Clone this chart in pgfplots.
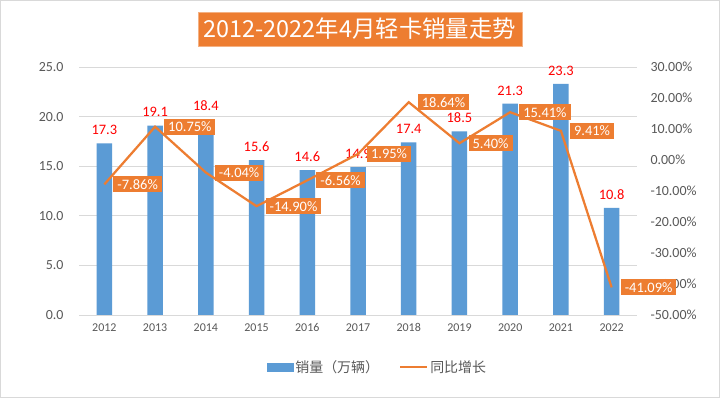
\documentclass[border=0pt]{standalone}
\usepackage{pgfplots}
\pgfplotsset{compat=1.18}
\usepackage{pgfplotstable}
\usepackage{fontspec}
\setmainfont{Carlito}
\newfontfamily\cjk{Noto Sans CJK SC}
\definecolor{barblue}{HTML}{5B9BD5}
\definecolor{lineorange}{HTML}{ED7D31}
\definecolor{labred}{HTML}{FF0000}
\definecolor{tickgray}{HTML}{595959}
\definecolor{gridgray}{HTML}{D9D9D9}

% laby: height at which the value label of each bar sits (2014's was lifted above the 10.75% box)
\pgfplotstableread{
x year sales laby growth
0 2012 17.3 17.3 -7.86
1 2013 19.1 19.1 10.75
2 2014 18.4 19.7 -4.04
3 2015 15.6 15.6 -14.90
4 2016 14.6 14.6 -6.56
5 2017 14.9 14.9 1.95
6 2018 17.4 17.4 18.64
7 2019 18.5 18.5 5.40
8 2020 21.3 21.3 15.41
9 2021 23.3 23.3 9.41
10 2022 10.8 10.8 -41.09
}\datatable

\begin{document}
\begin{tikzpicture}
\path[use as bounding box] (0bp,0bp) rectangle (720bp,398bp);
\fill[white] (0bp,0bp) rectangle (720bp,398bp);
\draw[gridgray, line width=1bp] (0.5bp,0.5bp) rectangle (719.5bp,397.5bp);

\begin{axis}[
  at={(79bp,83bp)}, anchor=south west,
  scale only axis, width=558bp, height=248bp,
  xmin=-0.5, xmax=10.5, ymin=0, ymax=25,
  axis x line*=bottom, axis y line*=left,
  x axis line style={gridgray, line width=0.75bp},
  y axis line style={draw=none},
  major tick length=0pt,
  xtick={0,1,...,10},
  xticklabels={2012,2013,2014,2015,2016,2017,2018,2019,2020,2021,2022},
  xticklabel style={font=\fontsize{12}{12}\selectfont, text=tickgray, yshift=-5bp},
  ytick={0,5,...,25},
  ymajorgrids, grid style={gridgray, line width=0.75bp},
  yticklabel style={font=\fontsize{14}{14}\selectfont, text=tickgray, xshift=-12bp,
    /pgf/number format/.cd, fixed, fixed zerofill, precision=1, assume math mode=true},
]
\addplot[ybar, bar width=15.5bp, fill=barblue, draw=none]
  table[x=x, y=sales]{\datatable};
\addplot[draw=none, mark=none, point meta=\thisrow{sales},
  nodes near coords={\pgfmathprintnumber[fixed,fixed zerofill,precision=1,assume math mode=true]{\pgfplotspointmeta}},
  nodes near coords style={text=labred, font=\fontsize{14.5}{14.5}\selectfont, anchor=south, yshift=5bp}]
  table[x=x, y=laby]{\datatable};
\end{axis}

\begin{axis}[
  at={(79bp,83bp)}, anchor=south west,
  scale only axis, width=558bp, height=248bp,
  xmin=-0.5, xmax=10.5, ymin=-50, ymax=30,
  axis x line=none, axis y line*=right,
  y axis line style={draw=none},
  major tick length=0pt,
  ytick={-50,-40,...,30},
  yticklabel={\pgfmathprintnumber[fixed,fixed zerofill,precision=2,assume math mode=true]{\tick}\%},
  yticklabel style={font=\fontsize{14}{14}\selectfont, text=tickgray, xshift=10bp},
  legend style={at={(0.535,-0.21)}, anchor=center, draw=none, fill=none,
    font=\cjk\fontsize{14}{14}\selectfont, text=tickgray,
    /tikz/every even column/.append style={column sep=18bp}},
  legend columns=2,
]
\addlegendimage{legend image code/.code={\fill[barblue] (0bp,-4bp) rectangle (26bp,4bp);}}
\addlegendentry{销量（万辆）}
\addplot[lineorange, line width=2.25bp, mark=none,
  legend image code/.code={\draw[lineorange, line width=2.25bp] (0bp,0bp) -- (27bp,0bp);},
  nodes near coords={\pgfmathprintnumber[fixed,fixed zerofill,precision=2,assume math mode=true]{\pgfplotspointmeta}\%},
  nodes near coords style={anchor=west, xshift=8bp, fill=lineorange, text=white,
    font=\fontsize{14.5}{14.5}\selectfont, inner xsep=4bp, inner ysep=3bp}]
  table[x=x, y=growth]{\datatable};
\addlegendentry{同比增长}
\end{axis}

\node[fill=lineorange, draw=lineorange!60, text=white, font=\cjk\fontsize{23.5}{23.5}\selectfont,
  inner xsep=6bp, minimum height=34bp] at (360bp,369bp) {2012-2022年4月轻卡销量走势};
\end{tikzpicture}
\end{document}
